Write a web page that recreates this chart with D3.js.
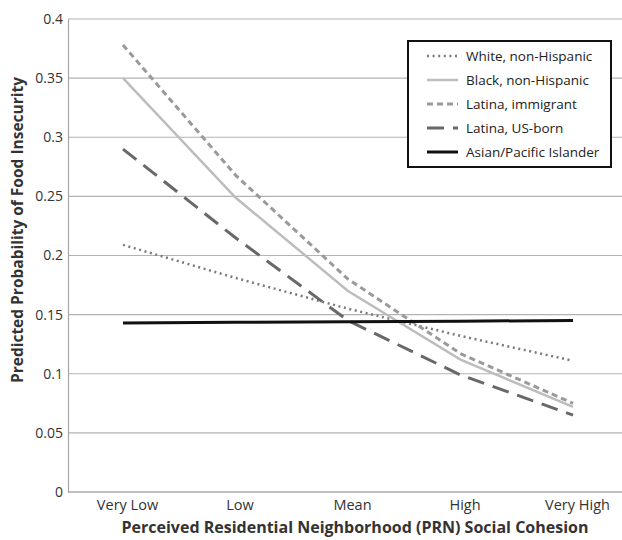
<!DOCTYPE html>
<html>
<head>
<meta charset="utf-8">
<script src="https://cdn.jsdelivr.net/npm/d3@7"></script>
<style>
  body { margin: 0; background: #fff; }
  text { font-family: "Open Sans", "Liberation Sans", sans-serif; }
</style>
</head>
<body>
<svg width="622" height="540"></svg>
<script>
// categories on the x axis
var categories = ["Very Low", "Low", "Mean", "High", "Very High"];
var yTicks = [0, 0.05, 0.1, 0.15, 0.2, 0.25, 0.3, 0.35, 0.4];

// series values
var white = [0.209, 0.181, 0.155, 0.132, 0.111];
var black = [0.350, 0.249, 0.170, 0.112, 0.072];
var latinaImm = [0.378, 0.268, 0.180, 0.117, 0.075];
var latinaUS = [0.290, 0.215, 0.145, 0.099, 0.065];
var asian = [0.143, 0.1435, 0.144, 0.1445, 0.145];

var seriesNames = ["White, non-Hispanic", "Black, non-Hispanic", "Latina, immigrant", "Latina, US-born", "Asian/Pacific Islander"];

var series = [
	{ name: seriesNames[0], values: white, color: "#7a7a7a", width: 2.5, dash: "2,3.6" },
	{ name: seriesNames[1], values: black, color: "#bdbdbd", width: 2.5, dash: null },
	{ name: seriesNames[2], values: latinaImm, color: "#9a9a9a", width: 3, dash: "6,4" },
	{ name: seriesNames[3], values: latinaUS, color: "#686868", width: 3, dash: "17,9" },
	{ name: seriesNames[4], values: asian, color: "#111111", width: 3, dash: null }
];

var svg = d3.select("svg");

// plot edges
var plotLeft = 68, plotRight = 629, plotTop = 19, plotBottom = 492;

var xScale = d3.scalePoint()
	.domain(categories)
	.range([123, 573]);

var yScale = d3.scaleLinear()
	.domain([0, 0.4])
	.range([plotBottom, plotTop]);

// gridlines
svg.append("g")
	.selectAll("line")
	.data(yTicks)
	.enter()
	.append("line")
	.attr("x1", plotLeft)
	.attr("x2", plotRight)
	.attr("y1", function(d){ return yScale(d); })
	.attr("y2", function(d){ return yScale(d); })
	.attr("stroke", "#b3b3b3")
	.attr("stroke-width", 1.2);

// y axis
var yAxis = d3.axisLeft(yScale)
	.tickValues(yTicks)
	.tickSize(0)
	.tickPadding(5)
	.tickFormat(function(d){ return d === 0 ? "0" : String(+d.toFixed(2)); });

svg.append("g")
	.attr("transform", "translate(" + plotLeft + ",0)")
	.call(yAxis)
	.call(function(g){
		g.select(".domain").attr("stroke", "#a6a6a6").attr("stroke-width", 1.2);
		g.selectAll("text").attr("font-size", 14).attr("fill", "#333");
	});

// x axis
var xAxis = d3.axisBottom(xScale)
	.tickSize(0)
	.tickPadding(8);

svg.append("g")
	.attr("transform", "translate(0," + plotBottom + ")")
	.call(xAxis)
	.call(function(g){
		g.select(".domain").remove();
		g.selectAll("text").attr("font-size", 14.5).attr("fill", "#333").attr("dx", 4);
	});

svg.append("line")
	.attr("x1", plotLeft).attr("x2", plotRight)
	.attr("y1", plotBottom).attr("y2", plotBottom)
	.attr("stroke", "#a6a6a6").attr("stroke-width", 1.2);

// axis titles
svg.append("text")
	.attr("x", 355)
	.attr("y", 533)
	.attr("text-anchor", "middle")
	.attr("font-size", 16)
	.attr("font-weight", "bold")
	.attr("fill", "#333")
	.text("Perceived Residential Neighborhood (PRN) Social Cohesion");

svg.append("text")
	.attr("transform", "translate(23,230) rotate(-90)")
	.attr("text-anchor", "middle")
	.attr("font-size", 15.5)
	.attr("font-weight", "bold")
	.attr("fill", "#333")
	.text("Predicted Probability of Food Insecurity");

// lines
var line = d3.line()
	.x(function(d, i){ return xScale(categories[i]); })
	.y(function(d){ return yScale(d); });

svg.append("g")
	.selectAll("path")
	.data(series)
	.enter()
	.append("path")
	.attr("d", function(s){ return line(s.values); })
	.attr("fill", "none")
	.attr("stroke", function(s){ return s.color; })
	.attr("stroke-width", function(s){ return s.width; })
	.attr("stroke-dasharray", function(s){ return s.dash; });

// legend
var legend = svg.append("g").attr("transform", "translate(408,41)");

legend.append("rect")
	.attr("width", 203)
	.attr("height", 126)
	.attr("fill", "#fff")
	.attr("stroke", "#111")
	.attr("stroke-width", 2);

var item = legend.selectAll("g.item")
	.data(series)
	.enter()
	.append("g")
	.attr("class", "item")
	.attr("transform", function(d, i){ return "translate(0," + (15 + i * 24) + ")"; });

item.append("line")
	.attr("x1", 19).attr("x2", 50)
	.attr("stroke", function(s){ return s.color; })
	.attr("stroke-width", function(s){ return s.width; })
	.attr("stroke-dasharray", function(s){ return s.dash; });

item.append("text")
	.attr("x", 58)
	.attr("dy", "0.35em")
	.attr("font-size", 13.5)
	.attr("fill", "#222")
	.text(function(s){ return s.name; });
</script>
</body>
</html>
